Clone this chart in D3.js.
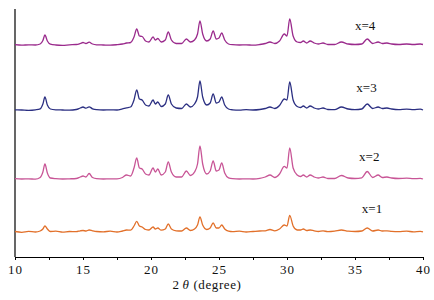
<!DOCTYPE html>
<html>
<head>
<meta charset="utf-8">
<script src="https://cdn.jsdelivr.net/npm/d3@7"></script>
<style>
  body { margin: 0; background: #fff; }
  text { font-family: "Liberation Serif", "DejaVu Serif", serif; }
</style>
</head>
<body>
<svg id="chart"></svg>
<script>
// 2theta positions (degree) shared by all patterns
const angles = [10.0, 10.5, 11.0, 11.5, 11.85, 12.05, 12.2, 12.38, 12.6, 13.0,
  13.5, 14.0, 14.5, 14.8, 15.0, 15.22, 15.45, 15.7, 16.0, 16.5,
  17.0, 17.5, 17.9, 18.2, 18.5, 18.75, 18.95, 19.15, 19.35, 19.6,
  19.85, 20.15, 20.32, 20.5, 20.75, 21.05, 21.27, 21.5, 21.85, 22.25,
  22.6, 22.9, 23.2, 23.42, 23.6, 23.8, 24.1, 24.35, 24.57, 24.8,
  25.0, 25.2, 25.42, 25.7, 26.0, 26.5, 27.0, 27.5, 28.0, 28.4,
  28.75, 29.1, 29.45, 29.8, 30.0, 30.2, 30.45, 30.75, 31.0, 31.2,
  31.45, 31.7, 32.0, 32.3, 32.65, 33.0, 33.5, 34.0, 34.5, 35.0,
  35.5, 35.9, 36.3, 36.7, 37.0, 37.35, 37.7, 38.2, 38.8, 39.3,
  39.8, 40.0];

// intensities (a.u.), before stacking
const x4 = [0.3, -0.2, 0.2, 0, 1.0, 4.5, 10, 4, 0.8, 0,
  -0.3, 0.2, 0.5, 1.5, 2.5, 1.5, 2.8, 1.0, 0.2, 0,
  -0.2, 0.3, 1.0, 2.0, 2.5, 8, 16, 9, 8.5, 4,
  3, 8, 5, 6.5, 3, 5, 13, 5, 1.5, 1.5,
  6, 3, 5, 11, 24, 11, 4, 6, 14, 6,
  7, 12, 5, 1, 0.3, 0, 0.2, -0.2, 0.5, 1.5,
  3, 1.5, 4, 11, 9, 26, 9, 3, 2.5, 4,
  2, 4, 2, 1, 2, 0.5, 0.5, 3, 1, 0.5,
  1, 6, 1.5, 3, 1.5, 2, 1, 0.5, 1, 0.5,
  1, 0.5];

const x3 = [0.2, 0, -0.3, 0.2, 1.2, 6, 13, 5, 1, 0.2,
  0, -0.2, 0.5, 2, 3, 1.8, 3.2, 1.2, 0.3, 0,
  0.2, 0, 1.2, 2.2, 3, 10, 20, 11, 10, 5,
  4, 10, 6, 8, 3.5, 6, 15, 6, 2, 1.5,
  6, 3, 6, 13, 29, 13, 5, 7, 16, 7,
  8, 13, 5, 1, 0.2, -0.2, 0.3, 0, 0.5, 1.5,
  3, 1.5, 4.5, 11, 10, 28, 10, 3.5, 2.5, 4,
  2, 4, 2, 1, 2, 0.5, 0.3, 3, 1, 0.3,
  1, 6, 1.5, 3, 1.5, 2, 1, 0.3, 0.8, 0.3,
  0.8, 0];

const x2 = [0.3, 0, 0.2, -0.2, 1.5, 7, 15, 6, 1, 0.3,
  0, 0.2, 0.5, 2, 3, 2, 5.5, 1.5, 0.3, 0,
  0.2, 0.2, 1.5, 4, 3, 11, 21, 11, 10, 5,
  4, 11, 7, 10, 4, 7, 17, 7, 2, 2,
  8, 3.5, 7, 15, 33, 15, 5, 8, 18, 8,
  9, 16, 6, 1.2, 0.3, 0, 0.2, 0, 0.6, 2,
  4, 1.5, 5, 12.6, 11, 31, 11, 4, 2.5, 4,
  2, 4, 2, 1, 2, 0.5, 0.5, 3.5, 1, 0.5,
  1.2, 7.5, 1.5, 4, 1.5, 2, 1, 0.5, 0.8, 0.3,
  0.6, 0];

const x1 = [0.5, -0.3, 0.6, 0, 1.0, 3, 6, 3, 0.5, 0.8,
  -0.2, 0.5, 0.3, 1.2, 1.5, 1.0, 2, 1.2, 0.5, 0.2,
  0.8, 0, 1.0, 2, 1.8, 6, 10.6, 6, 5, 2.5,
  2, 5, 3, 4, 1.8, 3, 8, 3, 1.2, 1,
  4, 1.5, 3, 7, 15, 7, 2.5, 4, 9, 4,
  4, 7, 3, 0.8, 0.3, 0.8, 0, 0.5, 1, 1.2,
  2.5, 1.2, 3, 7, 6, 16.6, 6, 2, 2, 3,
  1.5, 2, 1.2, 0.5, 1.2, 0.3, 0.8, 2, 0.8, 0.5,
  1, 4, 1, 2, 1, 1.2, 0.6, 0.3, 0.8, 0.2,
  0.6, 0.2];

const seriesNames = ['x=1', 'x=2', 'x=3', 'x=4'];
const seriesValues = [x1, x2, x3, x4];
const seriesOffsets = [25, 78, 147, 212];
const seriesColors = ['#e2702a', '#c85596', '#2b2f82', '#9a2a8c'];
const xTicks = [10, 15, 20, 25, 30, 35, 40];
const xMinorTicks = d3.range(10, 40.01, 2.5);

const margin = { top: 9, right: 11, bottom: 43, left: 15 };
const containerWidth = 434;
const containerHeight = 300;
const width = containerWidth - margin.left - margin.right;
const height = containerHeight - margin.top - margin.bottom;

const svg = d3.select('#chart')
    .attr('width', containerWidth)
    .attr('height', containerHeight);

const chart = svg.append('g')
    .attr('transform', `translate(${margin.left},${margin.top})`);

const xScale = d3.scaleLinear().domain([10, 40]).range([0, width]);
const yScale = d3.scaleLinear().domain([0, height]).range([height, 0]);

// bottom axis: small ticks every 2.5, labels every 5
const xAxis = d3.axisBottom(xScale)
    .tickValues(xMinorTicks)
    .tickSize(3)
    .tickSizeOuter(0)
    .tickFormat(d => xTicks.includes(d) ? d : '');

const xAxisG = chart.append('g')
    .attr('transform', `translate(0,${height})`)
    .call(xAxis);
xAxisG.select('.domain').attr('stroke', '#000').attr('stroke-width', 1.2);
xAxisG.selectAll('.tick line').attr('stroke', '#000');
xAxisG.selectAll('.tick text')
    .attr('y', 8)
    .attr('font-size', 13)
    .attr('letter-spacing', 1)
    .attr('font-family', '"Liberation Serif", serif')
    .attr('fill', '#111');

// left axis: plain line only
chart.append('line')
    .attr('x1', 0).attr('x2', 0)
    .attr('y1', 0).attr('y2', height)
    .attr('stroke', '#000')
    .attr('stroke-width', 1.2);

const line = d3.line()
    .x(d => xScale(d[0]))
    .y(d => yScale(d[1]))
    .curve(d3.curveMonotoneX);

seriesValues.forEach((vals, i) => {
    const pts = angles.map((a, j) => [a, vals[j] + seriesOffsets[i]]);
    chart.append('path')
        .datum(pts)
        .attr('fill', 'none')
        .attr('stroke', seriesColors[i])
        .attr('stroke-width', 1.3)
        .attr('stroke-linejoin', 'round')
        .attr('d', line);
});

// series labels
const labelPos = [[35.5, 44], [35.3, 96], [35.1, 165], [35.0, 227]];
seriesNames.forEach((name, i) => {
    chart.append('text')
        .attr('x', xScale(labelPos[i][0]))
        .attr('y', yScale(labelPos[i][1]))
        .attr('font-size', 13)
        .attr('fill', '#111')
        .text(name);
});

// x title
const title = svg.append('text')
    .attr('x', 207)
    .attr('y', 289)
    .attr('text-anchor', 'middle')
    .attr('font-size', 13)
    .attr('letter-spacing', 0.6)
    .attr('fill', '#111');
title.append('tspan').text('2');
title.append('tspan').attr('font-style', 'italic').attr('dx', 3).text('θ');
title.append('tspan').text(' (degree)');
</script>
</body>
</html>
